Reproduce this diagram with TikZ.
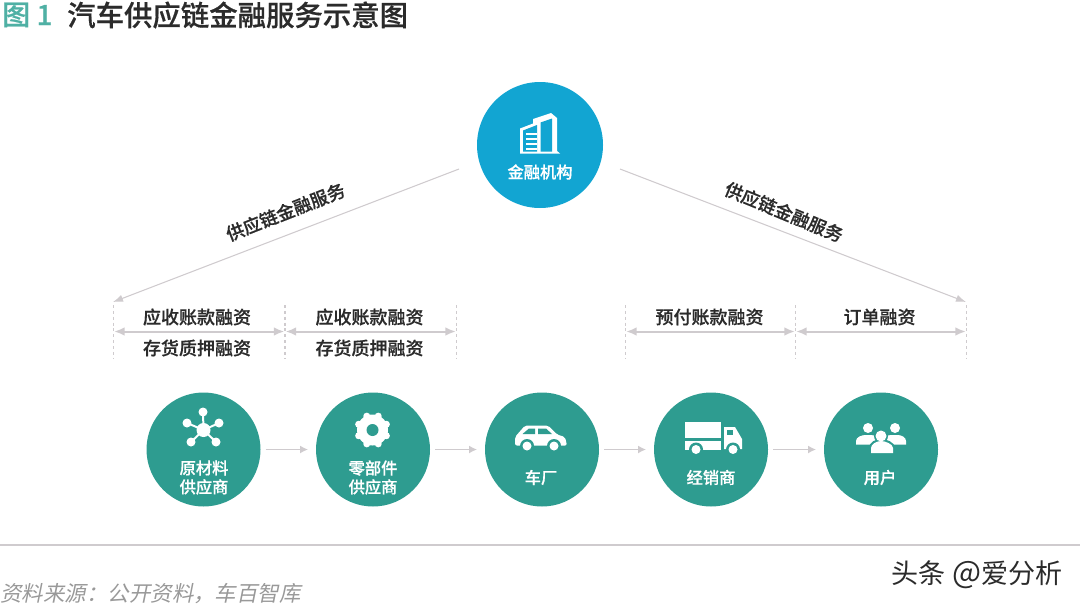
\documentclass[tikz,border=0pt]{standalone}
\usepackage{fontspec}
\setmainfont{Noto Sans CJK SC}[BoldFont=* Medium,BoldFeatures={FakeBold=0.5}]
\newfontfamily\cjkslant[FakeSlant=0.2]{Noto Sans CJK SC}
\usetikzlibrary{arrows.meta}
\definecolor{tealc}{HTML}{2E9C90}
\definecolor{bluec}{HTML}{12A5D2}
\definecolor{titleg}{HTML}{4FB0A4}
\definecolor{linec}{HTML}{CFCBCE}
\definecolor{darkt}{HTML}{2B2B2B}
\tikzset{
  org/.style={circle,fill=tealc,minimum size=85.5pt,inner sep=0pt,outer sep=0pt},
  bank/.style={circle,fill=bluec,minimum size=94.5pt,inner sep=0pt,outer sep=0pt},
  circtext/.style={text=white,font=\fontsize{12.2pt}{14.2pt}\selectfont\bfseries,align=center,inner sep=0pt},
  fintext/.style={text=darkt,font=\fontsize{13.5pt}{15pt}\selectfont\bfseries,inner sep=0pt},
  flowarrow/.style={draw=linec,line width=1pt,-{Latex[length=6pt,width=6pt]},shorten <=3.75pt,shorten >=6pt},
  spanline/.style={draw=linec,line width=1.5pt,{Latex[length=8pt,width=6.5pt]}-{Latex[length=8pt,width=6.5pt]},shorten <=0.4pt,shorten >=0.4pt},
  diag/.style={draw=linec,line width=0.8pt,-{Latex[length=7.5pt,width=5.5pt]}},
  guide/.style={draw=linec,line width=0.8pt,dash pattern=on 2.2pt off 2.2pt},
}
\begin{document}
\begin{tikzpicture}[x=0.75pt,y=-0.75pt]
\useasboundingbox (0,0) rectangle (1080,607);
% title
\node[anchor=west,inner sep=0pt,text=titleg,font=\fontsize{21pt}{24pt}\selectfont\bfseries] (fig) at (2,15) {图 1};
\node[anchor=west,inner sep=0pt,text=darkt,font=\fontsize{21.3pt}{24pt}\selectfont\bfseries] (ttl) at (67,15) {汽车供应链金融服务示意图};
% circles
\node[bank] (fin) at (540,145) {};
\node[org] (c1) at (203.5,449.5) {};
\node[org] (c2) at (373,449.5) {};
\node[org] (c3) at (542,449.5) {};
\node[org] (c4) at (711,449.5) {};
\node[org] (c5) at (881,449.5) {};
% flow
\draw[flowarrow] (c1) -- (c2);
\draw[flowarrow] (c2) -- (c3);
\draw[flowarrow] (c3) -- (c4);
\draw[flowarrow] (c4) -- (c5);
% diagonals
\coordinate (ls) at (459,169);
\coordinate (le) at (113,302);
\coordinate (rs) at (620,169);
\coordinate (re) at (966,302);
\draw[diag] (ls) -- (le);
\draw[diag] (rs) -- (re);
\node[fintext,rotate=21.5] (dl) at (285.5,212) {供应链金融服务};
\node[fintext,rotate=-22.5] (dr) at (784,212) {供应链金融服务};
% guides
\foreach \n/\x in {g1/113.5,g2/285,g3/456.5,g4/625.5,g5/795.5,g6/966.5}{
  \coordinate (\n t) at (\x,305);
  \coordinate (\n b) at (\x,358);
  \draw[guide] (\n t) -- (\n b);
  \coordinate (\n m) at (\x,331.5);
}
\draw[spanline] (g1m) -- (g2m);
\draw[spanline] (g2m) -- (g3m);
\draw[spanline] (g4m) -- (g5m);
\draw[spanline] (g5m) -- (g6m);
\node[fintext] (t1) at (197,317) {应收账款融资};
\node[fintext] (t2) at (197,348) {存货质押融资};
\node[fintext] (t3) at (369.5,317) {应收账款融资};
\node[fintext] (t4) at (369.5,348) {存货质押融资};
\node[fintext] (t5) at (709.5,317) {预付账款融资};
\node[fintext] (t6) at (879.5,317) {订单融资};
% circle text
\node[circtext] (ft) at (540,172) {金融机构};
\node[circtext] (l1) at (204,477.5) {原材料\\供应商};
\node[circtext] (l2) at (373,477.5) {零部件\\供应商};
\node[circtext] (l3) at (541,477.5) {车厂};
\node[circtext] (l4) at (711,477.5) {经销商};
\node[circtext] (l5) at (880,477.5) {用户};
% building icon
\fill[white] (520,128.5) -- (533,123.5) -- (533,119) -- (551,113) -- (557,118) -- (557,151) -- (560,153.5) -- (520,153.5) -- cycle;
\fill[bluec] (523,130.5) -- (537,125) -- (537,151.5) -- (523,151.5) -- cycle;
\foreach \y in {132.5,137.5,142.5,147.5}{\fill[white] (526,\y) rectangle (537,\y+2.3);}
\fill[bluec] (540.5,122.5) -- (552,118.5) -- (552,151.5) -- (540.5,151.5) -- cycle;
% network icon
\foreach \a/\b in {203/412,187/423,219/423,191/442,216/442}{
  \draw[white,line width=1.5pt] (203.5,430) -- (\a,\b);
  \fill[white] (\a,\b) circle (4.5);
}
\fill[white] (203.5,430) circle (7);
% gear icon
\fill[white] (372.5,430) circle (15.5);
\foreach \a in {0,45,...,315}{\fill[white] (372.5,430) ++(\a+22.5:15) circle (3.5);}
\fill[tealc] (372.5,430) circle (6);
% car icon
\fill[white,rounded corners=1.5pt] (515,445.5) -- (515,437) -- (525,425.5) -- (548,425.5) -- (557,434.5) -- (565,437) -- (567,445.5) -- cycle;
\fill[tealc] (522.5,434) -- (529,428.5) -- (535,428.5) -- (535,434) -- cycle;
\fill[tealc] (538,428.5) -- (546,428.5) -- (552,434) -- (538,434) -- cycle;
\foreach \x in {527,554}{\fill[tealc] (\x,446) circle (7); \fill[white] (\x,446) circle (4.5);}
% truck icon
\fill[white] (685,422) rectangle (721,438);
\fill[white] (685,441) rectangle (721,450);
\fill[white] (724,427) -- (735,427) -- (742,439) -- (742,449) -- (724,449) -- cycle;
\fill[tealc] (727,429.5) -- (733,429.5) -- (733,435) -- (727,435) -- cycle;
\foreach \x in {696,733}{\fill[tealc] (\x,449.5) circle (7); \fill[white] (\x,449.5) circle (4.5);}
% people icon
\foreach \x in {868,895}{\fill[white] (\x,428) circle (5);}
\fill[white] (856,444.5) -- (856,441) .. controls (856,437) and (862,435) .. (865.5,435) -- (870.5,435) .. controls (874,435) and (880,437) .. (880,441) -- (880,444.5) -- cycle;
\fill[white] (882,444.5) -- (882,441) .. controls (882,437) and (888,435) .. (891.5,435) -- (897.5,435) .. controls (901,435) and (906,437) .. (906,441) -- (906,444.5) -- cycle;
\fill[tealc] (881,436) circle (7);
\fill[tealc] (869,454.5) -- (869,448) .. controls (869,442) and (876,439) .. (881,439) .. controls (886,439) and (895,442) .. (895,448) -- (895,454.5) -- cycle;
\fill[white] (881,436) circle (5.5);
\fill[white] (871,453) -- (871,448) .. controls (871,444) and (877,441) .. (881,441) .. controls (885,441) and (893,444) .. (893,448) -- (893,453) -- cycle;
% footer
\coordinate (fa) at (0,545);
\coordinate (fb) at (1080,545);
\draw[draw=linec,line width=1pt] (fa) -- (fb);
\node[anchor=west,inner sep=0pt,text=black!40,font=\cjkslant\fontsize{16.1pt}{18pt}\selectfont] (src) at (0,594) {资料来源：公开资料，车百智库};
\node[anchor=west,inner sep=0pt,text=darkt,font=\fontsize{20.3pt}{22pt}\selectfont] (wm) at (891,575) {头条\hspace{0.25em}{\fontsize{23pt}{23pt}\selectfont @}爱分析};
\end{tikzpicture}
\end{document}
